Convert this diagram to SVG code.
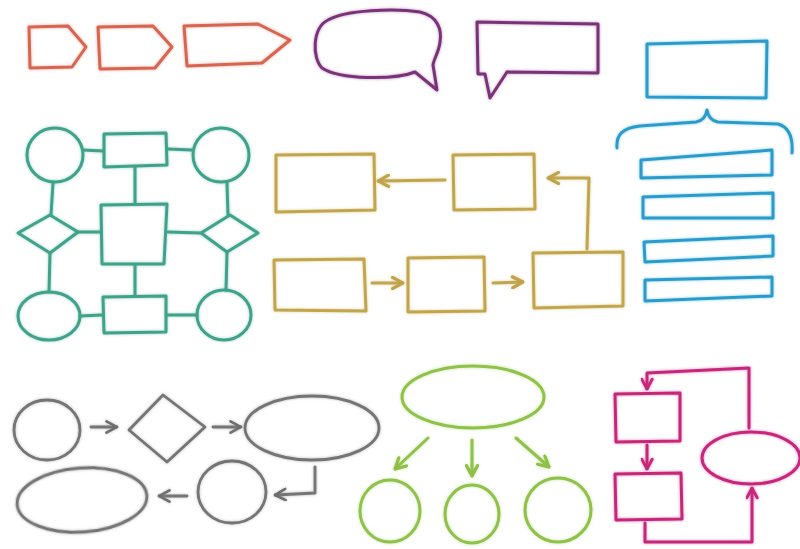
<svg xmlns="http://www.w3.org/2000/svg" width="800" height="549" viewBox="0 0 800 549">
<defs>
<filter id="soft" filterUnits="userSpaceOnUse" x="0" y="0" width="800" height="549">
<feGaussianBlur in="SourceGraphic" stdDeviation="1.8" result="b"/>
<feComponentTransfer in="b" result="c"><feFuncA type="linear" slope="0.5"/></feComponentTransfer>
<feMerge><feMergeNode in="c"/><feMergeNode in="SourceGraphic"/></feMerge>
</filter>
<marker id="ah-gold" viewBox="0 0 10 10" refX="9" refY="5" markerWidth="14" markerHeight="14" markerUnits="userSpaceOnUse" orient="auto"><path d="M1.5,1 L9,5 L1.5,9" fill="none" stroke="#bfa24a" stroke-width="2.2" stroke-linecap="round" stroke-linejoin="round"/></marker>
<marker id="ah-gray" viewBox="0 0 10 10" refX="9" refY="5" markerWidth="14" markerHeight="14" markerUnits="userSpaceOnUse" orient="auto"><path d="M1.5,1 L9,5 L1.5,9" fill="none" stroke="#6e6e6e" stroke-width="1.8" stroke-linecap="round" stroke-linejoin="round"/></marker>
<marker id="ah-green" viewBox="0 0 10 10" refX="9" refY="5" markerWidth="14" markerHeight="14" markerUnits="userSpaceOnUse" orient="auto"><path d="M1.5,1 L9,5 L1.5,9" fill="none" stroke="#8dc044" stroke-width="2.2" stroke-linecap="round" stroke-linejoin="round"/></marker>
<marker id="ah-mag" viewBox="0 0 10 10" refX="9" refY="5" markerWidth="13" markerHeight="13" markerUnits="userSpaceOnUse" orient="auto"><path d="M1.5,1 L9,5 L1.5,9" fill="none" stroke="#c8287a" stroke-width="2.2" stroke-linecap="round" stroke-linejoin="round"/></marker>
</defs>
<style>
.s{fill:none;stroke-width:3;stroke-linecap:round;stroke-linejoin:round;filter:url(#soft)}
.orange{stroke:#d8654f}
.purple{stroke:#7a3378}
.blue{stroke:#2a9ccb}
.teal{stroke:#3fa28b}
.gold{stroke:#c2a64e}
.gray{stroke:#747474;stroke-width:2.8}
.green{stroke:#8fc24a}
.mag{stroke:#c8287a}
</style>
<rect width="800" height="549" fill="#ffffff"/>

<!-- orange tags -->
<g id="tag1"><path class="s orange" d="M29,27 L68,26 L86,47 L72,67 L30,68 Z"/></g>
<g id="tag2"><path class="s orange" d="M98,27 L153,26 L172,47 L155,68 L100,69 Z"/></g>
<g id="tag3"><path class="s orange" d="M184,26 L258,24 L290,40 L262,63 L187,66 Z"/></g>

<!-- purple bubbles -->
<g id="bubble-oval"><path class="s purple" d="M415,72 C395,80 340,80 322,68 C312,58 312,28 328,20 C345,10 395,8 420,12 C438,16 442,30 440,42 C439,52 434,58 433,65 L437,90 L415,72"/></g>
<g id="bubble-rect"><path class="s purple" d="M507,72 L598,73 L598,24 L477,22 L478,74 L485,74 L490,98 L507,72"/></g>

<!-- blue -->
<g id="blue-box"><path class="s blue" d="M647,44 L767,41 L766,98 L647,97 Z"/></g>
<g id="blue-brace"><path class="s blue" d="M617,148 C616,135 622,128 640,126 L696,122 C703,121 706,116 707,110 C708,116 711,121 718,122 L778,124 C789,127 793,138 792,153"/></g>
<g id="blue-bar1"><path class="s blue" d="M641,160 L772,150 L772,175 L641,178 Z"/></g>
<g id="blue-bar2"><path class="s blue" d="M643,197 L773,193 L773,218 L643,218 Z"/></g>
<g id="blue-bar3"><path class="s blue" d="M644,242 L773,236 L773,256 L645,262 Z"/></g>
<g id="blue-bar4"><path class="s blue" d="M645,280 L772,277 L772,296 L645,301 Z"/></g>

<!-- teal network -->
<g id="teal-connectors">
<path class="s teal" d="M83,150 L103,151 M168,149 L192,150 M135,167 L135,203 M53,183 L51,215 M78,232 L100,232 M168,232 L200,233 M227,183 L228,215 M50,253 L49,292 M227,253 L226,290 M135,265 L135,295 M80,316 L102,315 M167,315 L197,315"/>
</g>
<g id="teal-c1"><ellipse class="s teal" cx="55" cy="155" rx="28" ry="27"/></g>
<g id="teal-c2"><ellipse class="s teal" cx="221" cy="155" rx="28" ry="27"/></g>
<g id="teal-c3"><ellipse class="s teal" cx="49" cy="316" rx="31" ry="24"/></g>
<g id="teal-c4"><ellipse class="s teal" cx="224" cy="315" rx="27" ry="25"/></g>
<g id="teal-r1"><path class="s teal" d="M104,134 L166,133 L167,165 L104,167 Z"/></g>
<g id="teal-sq"><path class="s teal" d="M101,205 L167,204 L164,264 L102,264 Z"/></g>
<g id="teal-r2"><path class="s teal" d="M103,297 L166,296 L166,332 L104,333 Z"/></g>
<g id="teal-d1"><path class="s teal" d="M18,233 L50,215 L78,232 L50,253 Z"/></g>
<g id="teal-d2"><path class="s teal" d="M201,233 L230,215 L258,233 L227,252 Z"/></g>

<!-- gold flow -->
<g id="gold-connectors">
<path class="s gold" d="M445,180 L378,181" marker-end="url(#ah-gold)"/>
<path class="s gold" d="M372,283 L403,283" marker-end="url(#ah-gold)"/>
<path class="s gold" d="M493,283 L523,282" marker-end="url(#ah-gold)"/>
<path class="s gold" d="M587,249 L589,178 L548,178" marker-end="url(#ah-gold)"/>
</g>
<g id="gold-b1"><path class="s gold" d="M276,155 L374,154 L375,210 L276,212 Z"/></g>
<g id="gold-b2"><path class="s gold" d="M453,155 L534,154 L535,209 L454,210 Z"/></g>
<g id="gold-b3"><path class="s gold" d="M274,260 L364,259 L366,311 L275,310 Z"/></g>
<g id="gold-b4"><path class="s gold" d="M408,258 L484,257 L485,311 L408,312 Z"/></g>
<g id="gold-b5"><path class="s gold" d="M533,253 L623,252 L623,306 L534,308 Z"/></g>

<!-- gray flow -->
<g id="gray-connectors">
<path class="s gray" d="M91,427 L117,427" marker-end="url(#ah-gray)"/>
<path class="s gray" d="M213,427 L241,427" marker-end="url(#ah-gray)"/>
<path class="s gray" d="M315,467 L315,493 L275,495" marker-end="url(#ah-gray)"/>
<path class="s gray" d="M187,496 L159,496" marker-end="url(#ah-gray)"/>
</g>
<g id="gray-c1"><ellipse class="s gray" cx="47" cy="430" rx="33" ry="30"/></g>
<g id="gray-d"><path class="s gray" d="M129,430 L163,395 L205,427 L167,462 Z"/></g>
<g id="gray-e1"><ellipse class="s gray" cx="312" cy="428" rx="67" ry="32"/></g>
<g id="gray-c2"><ellipse class="s gray" cx="232" cy="492" rx="34" ry="31"/></g>
<g id="gray-e2"><ellipse class="s gray" cx="82" cy="500" rx="65" ry="32" transform="rotate(-4 82 500)"/></g>

<!-- green tree -->
<g id="green-connectors">
<path class="s green" d="M428,438 L395,469" marker-end="url(#ah-green)"/>
<path class="s green" d="M472,440 L472,476" marker-end="url(#ah-green)"/>
<path class="s green" d="M516,438 L549,467" marker-end="url(#ah-green)"/>
</g>
<g id="green-e"><ellipse class="s green" cx="473" cy="397" rx="71" ry="31"/></g>
<g id="green-c1"><ellipse class="s green" cx="390" cy="511" rx="30" ry="31"/></g>
<g id="green-c2"><ellipse class="s green" cx="472" cy="514" rx="27" ry="29"/></g>
<g id="green-c3"><ellipse class="s green" cx="558" cy="510" rx="33" ry="32"/></g>

<!-- magenta loop -->
<g id="mag-connectors">
<path class="s mag" d="M749,428 L749,368 L647,373 L647,389" marker-end="url(#ah-mag)"/>
<path class="s mag" d="M647,445 L647,469" marker-end="url(#ah-mag)"/>
<path class="s mag" d="M645,523 L645,542 L752,542 L752,488" marker-end="url(#ah-mag)"/>
</g>
<g id="mag-b1"><path class="s mag" d="M615,394 L680,393 L680,441 L616,442 Z"/></g>
<g id="mag-b2"><path class="s mag" d="M615,474 L681,473 L682,519 L616,520 Z"/></g>
<g id="mag-e"><ellipse class="s mag" cx="751" cy="458" rx="49" ry="26"/></g>
</svg>
